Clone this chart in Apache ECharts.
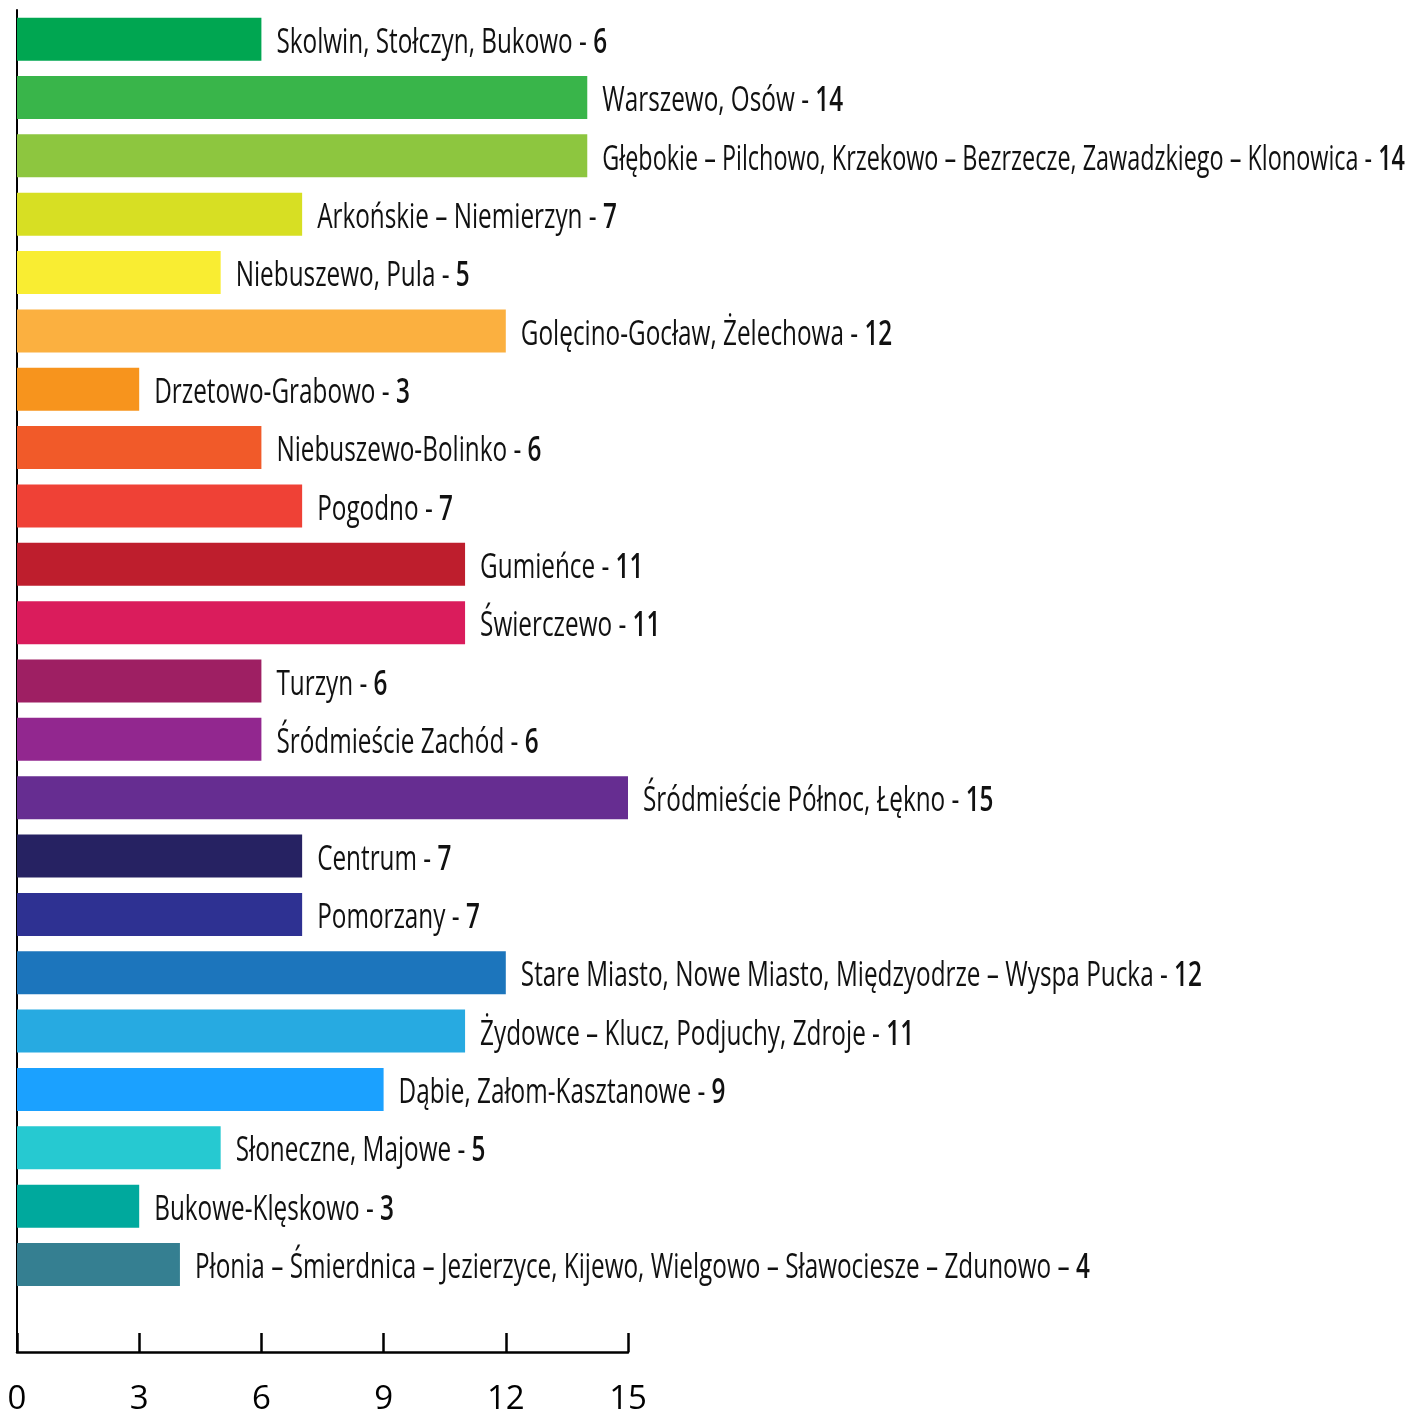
<!DOCTYPE html>
<html>
<head>
<meta charset="utf-8">
<script src="https://cdn.jsdelivr.net/npm/echarts@6/dist/echarts.min.js"></script>
<style>
html,body{margin:0;padding:0;background:#fff;}
#chart{width:1408px;height:1411px;}
</style>
</head>
<body>
<div id="chart"></div>
<script>
const categories = [
  "Skolwin, Stołczyn, Bukowo",
  "Warszewo, Osów",
  "Głębokie – Pilchowo, Krzekowo – Bezrzecze, Zawadzkiego – Klonowica",
  "Arkońskie – Niemierzyn",
  "Niebuszewo, Pula",
  "Golęcino-Gocław, Żelechowa",
  "Drzetowo-Grabowo",
  "Niebuszewo-Bolinko",
  "Pogodno",
  "Gumieńce",
  "Świerczewo",
  "Turzyn",
  "Śródmieście Zachód",
  "Śródmieście Północ, Łękno",
  "Centrum",
  "Pomorzany",
  "Stare Miasto, Nowe Miasto, Międzyodrze – Wyspa Pucka",
  "Żydowce – Klucz, Podjuchy, Zdroje",
  "Dąbie, Załom-Kasztanowe",
  "Słoneczne, Majowe",
  "Bukowe-Klęskowo",
  "Płonia – Śmierdnica – Jezierzyce, Kijewo, Wielgowo – Sławociesze – Zdunowo"
];
const values = [6, 14, 14, 7, 5, 12, 3, 6, 7, 11, 11, 6, 6, 15, 7, 7, 12, 11, 9, 5, 3, 4];
const separators = ["-","-","-","-","-","-","-","-","-","-","-","-","-","-","-","-","-","-","-","-","-","–"];
const colors = [
  "#00A651", "#39B54A", "#8DC63F", "#D7DF23", "#F9ED32", "#FBB040",
  "#F7941D", "#F15A29", "#EF4136", "#BE1E2D", "#DA1C5C", "#9E1F63",
  "#92278F", "#662D91", "#262262", "#2E3192", "#1C75BC", "#27AAE1",
  "#1BA1FF", "#26C9D1", "#00A99D", "#357F91"
];
const xTicks = [0, 3, 6, 9, 12, 15];

const FONT = '"Open Sans", "Noto Sans", sans-serif';
const LABEL_SIZE = 34;
const LABEL_SQUEEZE = 0.715;
const LABEL_GAP = 15;

const measureCtx = document.createElement('canvas').getContext('2d');
function textWidth(str, weight) {
  measureCtx.font = weight + ' ' + LABEL_SIZE + 'px ' + FONT;
  return measureCtx.measureText(str).width;
}

const chart = echarts.init(document.getElementById('chart'), null, {renderer: 'canvas'});
chart.setOption({
  backgroundColor: '#ffffff',
  animation: false,
  grid: {left: 17, top: 10, width: 611, height: 1342, containLabel: false, outerBoundsMode: 'none'},
  xAxis: {
    type: 'value', min: xTicks[0], max: xTicks[xTicks.length - 1], interval: 3,
    axisLine: {show: true, lineStyle: {color: '#000', width: 2.5}},
    axisTick: {show: true, inside: true, length: 19, lineStyle: {color: '#000', width: 2.5}},
    axisLabel: {color: '#000', fontSize: 33, fontFamily: FONT, margin: 31},
    splitLine: {show: false}
  },
  yAxis: {
    type: 'category', inverse: true, data: categories, max: categories.length,
    axisLine: {show: true, onZero: false, lineStyle: {color: '#000', width: 2}},
    axisTick: {show: false},
    axisLabel: {show: false},
    splitLine: {show: false}
  },
  series: [{
    type: 'bar',
    barWidth: 43,
    data: values.map((v, i) => ({value: v, itemStyle: {color: colors[i]}}))
  }, {
    type: 'custom',
    encode: {x: 0, y: 1},
    data: values.map((v, i) => [v, i]),
    z: 5,
    clip: false,
    renderItem: function (params, api) {
      const i = params.dataIndex;
      const pt = api.coord([api.value(0), api.value(1)]);
      const namePart = categories[i] + ' ' + separators[i] + ' ';
      const valuePart = String(values[i]);
      const x0 = pt[0] + LABEL_GAP;
      const full = textWidth(namePart, 'normal') + textWidth(valuePart, '600');
      const avail = api.getWidth() - x0 - 3;
      const s = Math.min(LABEL_SQUEEZE, avail / full);
      return {
        type: 'text',
        x: x0,
        y: pt[1] + 4,
        scaleX: s,
        style: {
          text: '{n|' + namePart + '}{v|' + valuePart + '}',
          align: 'left',
          verticalAlign: 'middle',
          rich: {
            n: {fontFamily: FONT, fontSize: LABEL_SIZE, fontWeight: 'normal', fill: '#111'},
            v: {fontFamily: FONT, fontSize: LABEL_SIZE, fontWeight: 600, fill: '#111'}
          }
        }
      };
    }
  }]
});
</script>
</body>
</html>
